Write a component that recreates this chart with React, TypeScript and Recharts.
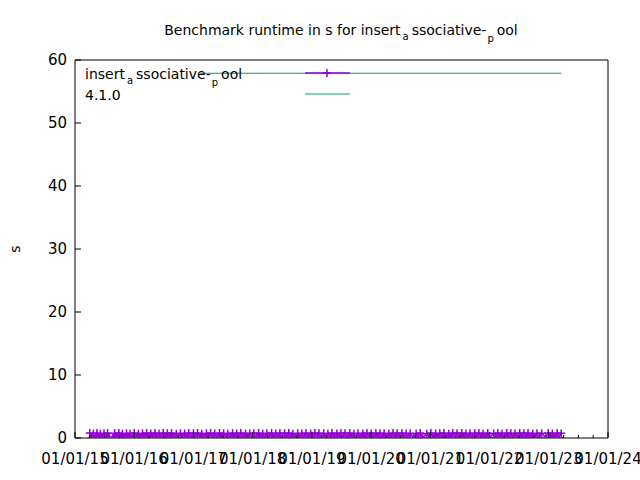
import React from 'react';
import { LineChart, Line, XAxis, YAxis, Legend } from 'recharts';

// commit dates (fractional years) and runtimes in s for insert_associative_pool
const runDates = [
  2015.25, 2015.28, 2015.31, 2015.34, 2015.37, 2015.40, 2015.43, 2015.46, 2015.49, 2015.52,
  2015.55, 2015.58, 2015.64, 2015.67, 2015.70, 2015.74, 2015.77, 2015.80, 2015.83, 2015.87,
  2015.90, 2015.93, 2015.97, 2016.00, 2016.04, 2016.07, 2016.10, 2016.14, 2016.17, 2016.21,
  2016.24, 2016.28, 2016.31, 2016.35, 2016.38, 2016.42, 2016.45, 2016.49, 2016.53, 2016.56,
  2016.60, 2016.63, 2016.67, 2016.71, 2016.74, 2016.78, 2016.81, 2016.85, 2016.89, 2016.92,
  2016.96, 2017.00, 2017.03, 2017.07, 2017.11, 2017.14, 2017.18, 2017.22, 2017.25, 2017.29,
  2017.33, 2017.36, 2017.40, 2017.44, 2017.47, 2017.51, 2017.55, 2017.58, 2017.62, 2017.66,
  2017.69, 2017.73, 2017.77, 2017.80, 2017.84, 2017.88, 2017.91, 2017.95, 2017.99, 2018.02,
  2018.06, 2018.10, 2018.13, 2018.17, 2018.21, 2018.24, 2018.28, 2018.32, 2018.35, 2018.39,
  2018.43, 2018.46, 2018.50, 2018.54, 2018.57, 2018.61, 2018.65, 2018.68, 2018.72, 2018.76,
  2018.79, 2018.83, 2018.87, 2018.90, 2018.94, 2018.98, 2019.01, 2019.05, 2019.09, 2019.12,
  2019.16, 2019.20, 2019.23, 2019.27, 2019.31, 2019.34, 2019.38, 2019.42, 2019.45, 2019.49,
  2019.53, 2019.56, 2019.60, 2019.64, 2019.67, 2019.71, 2019.75, 2019.78, 2019.82, 2019.86,
  2019.89, 2019.93, 2019.97, 2020.00, 2020.04, 2020.08, 2020.11, 2020.15, 2020.19, 2020.22,
  2020.26, 2020.30, 2020.33, 2020.37, 2020.41, 2020.44, 2020.48, 2020.52, 2020.55, 2020.59,
  2020.63, 2020.66, 2020.72, 2020.76, 2020.79, 2020.83, 2020.87, 2020.94, 2020.98, 2021.01,
  2021.05, 2021.09, 2021.12, 2021.16, 2021.20, 2021.23, 2021.27, 2021.31, 2021.34, 2021.38,
  2021.42, 2021.45, 2021.49, 2021.53, 2021.56, 2021.60, 2021.64, 2021.67, 2021.71, 2021.75,
  2021.78, 2021.82, 2021.86, 2021.89, 2021.93, 2021.97, 2022.00, 2022.07, 2022.10, 2022.14,
  2022.18, 2022.21, 2022.25, 2022.29, 2022.32, 2022.36, 2022.40, 2022.43, 2022.47, 2022.51,
  2022.54, 2022.58, 2022.62, 2022.65, 2022.69, 2022.73, 2022.76, 2022.80, 2022.84, 2022.88,
  2022.95, 2022.99, 2023.03, 2023.06, 2023.10, 2023.14, 2023.17, 2023.21,
];

const runSeconds = [
  0.78, 0.04, 0.71, 0.12, 0.80, 0.02, 0.66, 0.09, 0.75, 0.01,
  0.79, 0.15, 0.03, 0.74, 0.06, 0.81, 0.10, 0.69, 0.02, 0.77,
  0.05, 0.72, 0.01, 0.80, 0.13, 0.68, 0.03, 0.76, 0.08, 0.79,
  0.02, 0.73, 0.11, 0.81, 0.04, 0.70, 0.01, 0.78, 0.07, 0.75,
  0.03, 0.80, 0.14, 0.67, 0.02, 0.77, 0.09, 0.72, 0.01, 0.79,
  0.06, 0.74, 0.02, 0.81, 0.12, 0.69, 0.03, 0.76, 0.05, 0.80,
  0.01, 0.71, 0.10, 0.78, 0.02, 0.75, 0.08, 0.66, 0.04, 0.79,
  0.13, 0.73, 0.01, 0.80, 0.06, 0.70, 0.02, 0.77, 0.11, 0.74,
  0.03, 0.81, 0.07, 0.68, 0.01, 0.76, 0.09, 0.79, 0.02, 0.72,
  0.15, 0.78, 0.04, 0.75, 0.01, 0.80, 0.10, 0.67, 0.03, 0.77,
  0.06, 0.73, 0.02, 0.81, 0.12, 0.70, 0.01, 0.79, 0.08, 0.74,
  0.03, 0.76, 0.05, 0.69, 0.01, 0.80, 0.11, 0.72, 0.02, 0.78,
  0.07, 0.75, 0.01, 0.81, 0.14, 0.66, 0.03, 0.77, 0.09, 0.73,
  0.02, 0.79, 0.06, 0.71, 0.01, 0.80, 0.12, 0.74, 0.04, 0.76,
  0.01, 0.68, 0.10, 0.78, 0.02, 0.75, 0.07, 0.81, 0.03, 0.70,
  0.13, 0.77, 0.01, 0.73, 0.05, 0.79, 0.02, 0.67, 0.09, 0.80,
  0.03, 0.72, 0.11, 0.76, 0.01, 0.81, 0.06, 0.69, 0.02, 0.78,
  0.08, 0.74, 0.01, 0.80, 0.14, 0.71, 0.03, 0.77, 0.05, 0.75,
  0.02, 0.79, 0.10, 0.66, 0.01, 0.81, 0.07, 0.73, 0.04, 0.78,
  0.12, 0.70, 0.02, 0.80, 0.06, 0.76, 0.01, 0.72, 0.09, 0.79,
  0.03, 0.74, 0.11, 0.81, 0.02, 0.68, 0.05, 0.77, 0.01, 0.75,
  0.08, 0.80, 0.02, 0.71, 0.13, 0.78, 0.04, 0.76,
];

// 4.1.0 release marker line
const releaseDates = [2017.11, 2023.21];
const releaseSeconds = [57.9, 57.9];

const yearTicks = [2015, 2016, 2017, 2018, 2019, 2020, 2021, 2022, 2023, 2024];
const yTicks = [0, 10, 20, 30, 40, 50, 60];

const runData = runDates.map((x, i) => ({ x, s: runSeconds[i] }));
const releaseData = releaseDates.map((x, i) => ({ x, s: releaseSeconds[i] }));
const xTicks = yearTicks.flatMap(y => (y === 2024 ? [y] : [y, y + 0.25, y + 0.5, y + 0.75]));

const FONT = "'DejaVu Sans', sans-serif";
const PURPLE = '#9400d3';
const TEAL = '#009e73';

const yearLabel = (v: number) => `01/01/${String(v).slice(2)}`;

const BottomTick = (props: any) => {
  const { x, y, payload } = props;
  const major = Number.isInteger(payload.value);
  return (
    <g>
      <line x1={x} x2={x} y1={y} y2={y - (major ? 6 : 3)} stroke="#000" />
      {major && (
        <text x={x} y={y + 26} textAnchor="middle" fontSize={15} fontFamily={FONT} fill="#000">
          {yearLabel(payload.value)}
        </text>
      )}
    </g>
  );
};

const TopTick = (props: any) => {
  const { x, y, payload } = props;
  const major = Number.isInteger(payload.value);
  return <line x1={x} x2={x} y1={y} y2={y + (major ? 6 : 3)} stroke="#000" />;
};

const LeftTick = (props: any) => {
  const { x, y, payload } = props;
  return (
    <g>
      <line x1={x} x2={x + 6} y1={y} y2={y} stroke="#000" />
      <text x={x - 8} y={y + 5} textAnchor="end" fontSize={15} fontFamily={FONT} fill="#000">
        {payload.value}
      </text>
    </g>
  );
};

const RightTick = (props: any) => {
  const { x, y } = props;
  return <line x1={x} x2={x - 6} y1={y} y2={y} stroke="#000" />;
};

const PlusDot = (props: any) => {
  const { cx, cy } = props;
  if (cx == null || cy == null) return null;
  return (
    <path d={`M${cx - 4},${cy}H${cx + 4}M${cx},${cy - 4}V${cy + 4}`} stroke={PURPLE} strokeWidth={1.5} fill="none" />
  );
};

const renderLegend = () => (
  <svg width={640} height={110} style={{ display: 'block' }}>
    <text x={85} y={79} fontSize={14} fontFamily={FONT} fill="#000">
      insert
      <tspan dx={2} dy={5} fontSize={10}>a</tspan>
      <tspan dx={3} dy={-5}>ssociative-</tspan>
      <tspan dx={1} dy={7} fontSize={10}>p</tspan>
      <tspan dx={3} dy={-7}>ool</tspan>
    </text>
    <line x1={305} x2={350} y1={73} y2={73} stroke={PURPLE} strokeWidth={1.5} />
    <path d="M323,73H331M327,69V77" stroke={PURPLE} strokeWidth={1.5} />
    <text x={85} y={100} fontSize={14} fontFamily={FONT} fill="#000">4.1.0</text>
    <line x1={305} x2={350} y1={94} y2={94} stroke={TEAL} strokeWidth={1.2} />
  </svg>
);

export default function App() {
  return (
    <div style={{ position: 'absolute', left: 0, top: 0, width: 640, height: 480, background: '#fff' }}>
      <LineChart width={640} height={480} margin={{ top: 0, right: 0, bottom: 0, left: 15 }}>
        <XAxis
          dataKey="x"
          type="number"
          domain={[2015, 2024]}
          ticks={xTicks}
          interval={0}
          height={42}
          tickSize={0}
          tickMargin={0}
          tickLine={false}
          axisLine={{ stroke: '#000' }}
          tick={<BottomTick />}
          allowDataOverflow
        />
        <XAxis
          xAxisId="top"
          orientation="top"
          dataKey="x"
          type="number"
          domain={[2015, 2024]}
          ticks={xTicks}
          interval={0}
          height={60}
          tickSize={0}
          tickMargin={0}
          tickLine={false}
          axisLine={{ stroke: '#000' }}
          tick={<TopTick />}
        />
        <YAxis
          type="number"
          domain={[0, 60]}
          ticks={yTicks}
          interval={0}
          width={60}
          tickSize={0}
          tickMargin={0}
          tickLine={false}
          axisLine={{ stroke: '#000' }}
          tick={<LeftTick />}
          allowDataOverflow
        />
        <YAxis
          yAxisId="right"
          orientation="right"
          type="number"
          domain={[0, 60]}
          ticks={yTicks}
          interval={0}
          width={32}
          tickSize={0}
          tickMargin={0}
          tickLine={false}
          axisLine={{ stroke: '#000' }}
          tick={<RightTick />}
        />
        <Legend
          layout="horizontal"
          verticalAlign="middle"
          align="center"
          wrapperStyle={{ top: 0, left: 0, width: 640, height: 110 }}
          content={renderLegend}
        />
        <Line
          data={runData}
          dataKey="s"
          name="insert_associative_pool"
          type="linear"
          stroke={PURPLE}
          strokeWidth={1.5}
          dot={<PlusDot />}
          isAnimationActive={false}
        />
        <Line
          data={releaseData}
          dataKey="s"
          name="4.1.0"
          type="linear"
          stroke={TEAL}
          strokeWidth={1.2}
          dot={false}
          isAnimationActive={false}
        />
      </LineChart>
      <svg width={640} height={480} style={{ position: 'absolute', left: 0, top: 0, pointerEvents: 'none' }}>
        <text x={341} y={35} textAnchor="middle" fontSize={14} fontFamily={FONT} fill="#000">
          Benchmark runtime in s for insert
          <tspan dx={2} dy={5} fontSize={10}>a</tspan>
          <tspan dx={3} dy={-5}>ssociative-</tspan>
          <tspan dx={1} dy={7} fontSize={10}>p</tspan>
          <tspan dx={3} dy={-7}>ool</tspan>
        </text>
        <text x={20} y={249} textAnchor="middle" fontSize={14} fontFamily={FONT} fill="#000" transform="rotate(-90 20 249)">
          s
        </text>
      </svg>
    </div>
  );
}
